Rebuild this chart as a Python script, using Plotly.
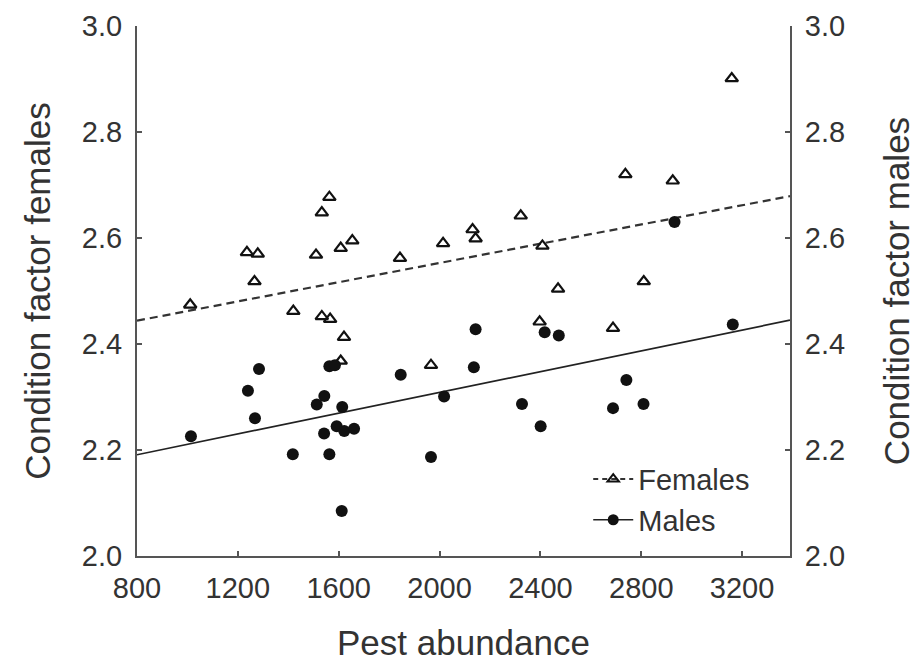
import plotly.graph_objects as go

# Females (open triangles, left axis)
fem_x = [1011, 1236, 1266, 1279, 1420, 1510, 1533, 1533, 1563, 1566, 1608, 1608, 1621, 1654,
         1843, 1966, 2014, 2131, 2143, 2322, 2397, 2408, 2470, 2688, 2737, 2810, 2925, 3159]
fem_y = [2.474, 2.573, 2.518, 2.570, 2.462, 2.568, 2.648, 2.452, 2.677, 2.447, 2.581, 2.368,
         2.413, 2.595, 2.562, 2.360, 2.590, 2.616, 2.599, 2.642, 2.442, 2.585, 2.504, 2.430,
         2.720, 2.518, 2.708, 2.901]

# Males (filled circles, right axis)
male_x = [1014, 1240, 1268, 1284, 1418, 1513, 1542, 1543, 1563, 1563, 1585, 1592, 1612, 1614,
          1622, 1661, 1846, 1966, 2018, 2136, 2143, 2327, 2401, 2417, 2473, 2688, 2741, 2809,
          2932, 3163]
male_y = [2.226, 2.312, 2.260, 2.353, 2.192, 2.286, 2.231, 2.302, 2.192, 2.358, 2.360, 2.245,
          2.085, 2.281, 2.236, 2.240, 2.342, 2.187, 2.301, 2.356, 2.428, 2.287, 2.245, 2.422,
          2.416, 2.279, 2.332, 2.287, 2.630, 2.437]

# Regression lines (end points)
fit_x = [800, 3390]
fem_fit = [2.444, 2.679]
male_fit = [2.191, 2.445]

x_ticks = [800, 1200, 1600, 2000, 2400, 2800, 3200]
y_ticks = [2.0, 2.2, 2.4, 2.6, 2.8, 3.0]

FONT = "Liberation Sans, Arial, Helvetica, sans-serif"
TXT = "#333333"
AX = "#555555"

fig = go.Figure()

fig.add_trace(go.Scatter(x=fit_x, y=fem_fit, mode="lines", yaxis="y",
                         line=dict(color="#333333", width=2.2, dash="8px,5px"),
                         showlegend=False, hoverinfo="skip"))
fig.add_trace(go.Scatter(x=fit_x, y=male_fit, mode="lines", yaxis="y2",
                         line=dict(color="#222222", width=1.7),
                         showlegend=False, hoverinfo="skip"))

fig.add_trace(go.Scatter(x=fem_x, y=fem_y, mode="markers", yaxis="y", name="Females",
                         marker=dict(symbol="triangle-up-open", size=11, color="#111111",
                                     line=dict(width=2.2, color="#111111")),
                         showlegend=False))
fig.add_trace(go.Scatter(x=male_x, y=male_y, mode="markers", yaxis="y2", name="Males",
                         marker=dict(symbol="circle", size=12, color="#111111",
                                     line=dict(width=0)),
                         showlegend=False))

# legend entries
fig.add_trace(go.Scatter(x=[None], y=[None], mode="lines+markers", name="Females", yaxis="y",
                         line=dict(color="#333333", width=2, dash="5px,4px"),
                         marker=dict(symbol="triangle-up-open", size=10, color="#111111",
                                     line=dict(width=2, color="#111111"))))
fig.add_trace(go.Scatter(x=[None], y=[None], mode="lines+markers", name="Males", yaxis="y2",
                         line=dict(color="#222222", width=1.7),
                         marker=dict(symbol="circle", size=11, color="#111111")))

axis_common = dict(showgrid=False, zeroline=False, showline=True, linecolor=AX, linewidth=2,
                   ticks="inside", ticklen=5, tickwidth=2, tickcolor=AX,
                   tickfont=dict(family=FONT, size=29, color=TXT), automargin=False)

fig.update_layout(
    width=917, height=666,
    margin=dict(l=137, r=127, t=26, b=110),
    paper_bgcolor="white", plot_bgcolor="white",
    font=dict(family=FONT, color=TXT),
    xaxis=dict(range=[800, 3390], tickvals=x_ticks, ticktext=[str(v) for v in x_ticks],
               ticklabelstandoff=5,
               title=dict(text="Pest abundance", font=dict(family=FONT, size=35, color=TXT),
                          standoff=28),
               **axis_common),
    yaxis=dict(range=[2.0, 3.0], tickvals=y_ticks, ticktext=[f"{v:.1f}" for v in y_ticks],
               ticklabelstandoff=7,
               title=dict(text="Condition factor females",
                          font=dict(family=FONT, size=35, color=TXT), standoff=21),
               **axis_common),
    yaxis2=dict(range=[2.0, 3.0], tickvals=y_ticks, ticktext=[f"{v:.1f}" for v in y_ticks],
                overlaying="y", side="right", ticklabelstandoff=7,
                title=dict(text="Condition factor males",
                           font=dict(family=FONT, size=35, color=TXT), standoff=40),
                **axis_common),
    legend=dict(x=0.691, y=0.193, xanchor="left", yanchor="top",
                bgcolor="rgba(0,0,0,0)", font=dict(family=FONT, size=29, color=TXT),
                tracegroupgap=0, itemwidth=40),
)

fig.write_html("out.html")
